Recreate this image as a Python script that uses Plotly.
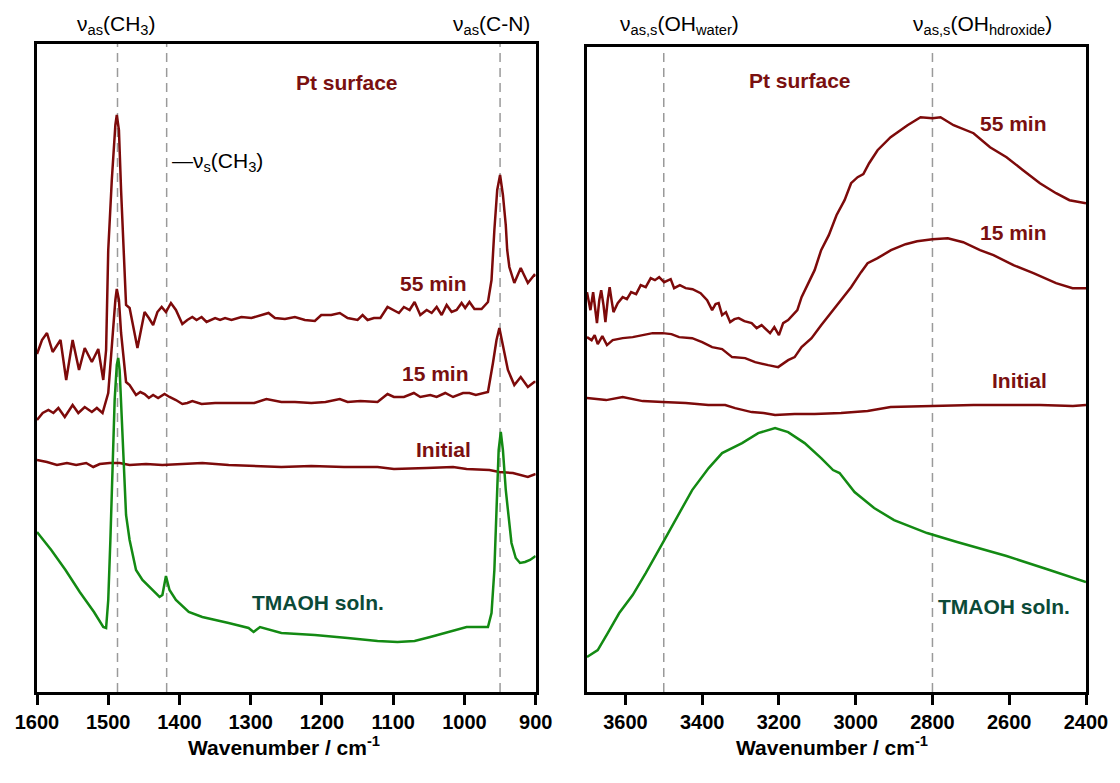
import plotly.graph_objects as go

# ---------------- Left panel (1600-900 cm-1) ----------------
wn_l55 = [1600,1593,1586,1578,1567,1559,1550,1541,1533,1523,1514,1507,1503,1500,1495,1490,1488,1485,1482,1478,
          1475,1470,1464,1459,1454,1449,1443,1437,1431,1425,1419,1412,1405,1396,1389,1382,1376,1369,1362,1350,
          1343,1336,1327,1313,1299,1285,1275,1266,1252,1238,1224,1210,1201,1187,1175,1164,1150,1143,1136,1127,
          1118,1108,1099,1092,1085,1077,1070,1062,1053,1046,1039,1032,1025,1018,1011,1004,999,993,986,976,
          967,962,958,954,950,946,942,940,937,930,921,911,902,900]
ab_l55 = [3.38,3.52,3.59,3.40,3.52,3.12,3.52,3.22,3.44,3.30,3.43,3.12,3.42,4.42,5.12,5.67,5.77,5.62,5.02,4.32,
          3.87,3.84,3.62,3.44,3.62,3.80,3.74,3.67,3.80,3.85,3.80,3.89,3.82,3.68,3.72,3.75,3.72,3.75,3.70,3.74,
          3.72,3.74,3.72,3.75,3.74,3.77,3.79,3.74,3.73,3.75,3.72,3.71,3.77,3.77,3.79,3.74,3.72,3.77,3.72,3.74,
          3.74,3.85,3.82,3.79,3.85,3.82,3.90,3.77,3.82,3.79,3.85,3.77,3.87,3.80,3.82,3.89,3.84,3.90,3.83,3.83,
          3.90,4.12,4.62,5.02,5.17,4.97,4.67,4.42,4.25,4.09,4.24,4.09,4.17,4.16]

wn_l15 = [1600,1592,1584,1577,1570,1561,1550,1542,1533,1523,1516,1508,1500,1494,1490,1488,1485,1482,1478,1475,
          1470,1461,1455,1449,1443,1437,1430,1421,1414,1405,1396,1389,1382,1369,1350,1331,1313,1295,1278,1257,
          1238,1215,1195,1175,1164,1146,1122,1108,1099,1085,1071,1062,1048,1039,1027,1016,1002,993,984,967,
          960,955,951,946,939,930,921,911,902,900]
ab_l15 = [2.72,2.79,2.82,2.79,2.84,2.75,2.87,2.79,2.85,2.80,2.84,2.79,2.99,3.59,3.92,4.03,3.92,3.59,3.32,3.10,
          3.07,2.97,3.00,2.98,2.94,2.97,2.94,2.98,2.95,2.92,2.88,2.89,2.91,2.88,2.89,2.89,2.89,2.89,2.93,2.90,
          2.90,2.89,2.90,2.93,2.90,2.91,2.90,2.98,2.95,2.95,2.99,2.95,2.97,2.95,2.99,2.95,2.99,2.99,2.97,3.00,
          3.29,3.52,3.64,3.45,3.22,3.07,3.15,3.05,3.10,3.10]

wn_l0 = [1600,1586,1572,1558,1545,1531,1521,1512,1498,1484,1470,1447,1424,1400,1368,1331,1294,1257,1215,1169,
         1122,1099,1053,1016,997,965,951,932,911,902,900]
ab_l0 = [2.32,2.30,2.27,2.29,2.27,2.29,2.25,2.28,2.29,2.29,2.27,2.28,2.27,2.28,2.29,2.27,2.26,2.25,2.26,2.25,
         2.25,2.23,2.24,2.25,2.23,2.22,2.20,2.19,2.15,2.18,2.18]

wn_lT = [1600,1580,1560,1540,1520,1507,1503,1500,1497,1494,1491,1488,1486,1484,1481,1478,1475,1470,1461,1452,
         1440,1428,1424,1419,1414,1405,1387,1368,1331,1303,1296,1287,1257,1210,1164,1122,1094,1070,1048,1029,
         997,967,962,958,955,952,949,946,942,938,934,928,922,915,908,902,900]
ab_lT = [1.60,1.42,1.22,1.00,0.80,0.65,0.64,0.92,1.52,2.22,2.92,3.27,3.34,3.22,2.72,2.12,1.77,1.52,1.22,1.12,
         1.04,0.95,0.97,1.16,1.02,0.92,0.80,0.75,0.69,0.64,0.60,0.65,0.59,0.57,0.54,0.51,0.50,0.51,0.55,0.59,
         0.65,0.65,0.79,1.22,1.92,2.42,2.60,2.42,2.02,1.72,1.49,1.34,1.29,1.30,1.32,1.35,1.36]

# ---------------- Right panel (3700-2400 cm-1) ----------------
wn_r55 = [3700,3694,3691,3684,3679,3674,3668,3663,3657,3652,3646,3641,3636,3631,3620,3607,3596,3585,3572,3560,
          3547,3534,3523,3512,3499,3482,3473,3458,3443,3425,3404,3387,3374,3365,3357,3348,3338,3327,3316,3305,
          3290,3271,3258,3245,3223,3212,3200,3189,3176,3163,3152,3141,3124,3107,3090,3070,3050,3029,3012,2995,
          2980,2965,2943,2909,2865,2831,2800,2779,2745,2693,2650,2607,2564,2520,2478,2443,2400]
ab_r55 = [4.00,3.87,3.82,4.00,3.87,3.69,3.92,4.02,3.87,3.70,3.92,4.05,3.92,3.80,3.89,3.95,3.93,4.00,3.98,4.07,
          4.05,4.14,4.12,4.15,4.10,4.13,4.04,4.07,4.04,4.03,3.99,3.92,3.82,3.88,3.89,3.77,3.80,3.70,3.73,3.74,
          3.71,3.69,3.64,3.67,3.59,3.65,3.57,3.69,3.72,3.77,3.82,3.95,4.09,4.22,4.42,4.57,4.77,4.92,5.09,5.15,
          5.18,5.29,5.42,5.55,5.67,5.75,5.74,5.75,5.67,5.59,5.45,5.35,5.22,5.09,4.99,4.92,4.89]

wn_r15 = [3700,3688,3680,3672,3660,3648,3633,3607,3581,3555,3529,3503,3480,3460,3426,3400,3374,3348,3322,3288,
          3262,3228,3202,3176,3159,3141,3115,3090,3064,3038,3012,2986,2969,2943,2908,2870,2840,2800,2760,2720,
          2676,2641,2589,2537,2478,2435,2400]
ab_r15 = [3.55,3.52,3.57,3.48,3.56,3.47,3.52,3.54,3.55,3.57,3.59,3.59,3.58,3.55,3.54,3.50,3.45,3.43,3.35,3.34,
          3.30,3.27,3.25,3.32,3.35,3.45,3.54,3.67,3.80,3.92,4.05,4.20,4.29,4.34,4.42,4.48,4.51,4.53,4.54,4.50,
          4.42,4.37,4.27,4.19,4.09,4.04,4.04]

wn_r0 = [3700,3650,3607,3555,3503,3443,3384,3340,3314,3271,3240,3210,3159,3107,3038,2969,2909,2814,2693,2520,2434,2400]
ab_r0 = [2.94,2.92,2.95,2.91,2.90,2.89,2.87,2.87,2.84,2.80,2.79,2.77,2.78,2.78,2.79,2.81,2.85,2.86,2.87,2.87,2.86,2.87]

wn_rT = [3700,3672,3646,3616,3581,3547,3503,3469,3426,3383,3348,3296,3254,3210,3176,3133,3090,3059,3042,3003,
         2952,2900,2814,2736,2607,2503,2417,2400]
ab_rT = [0.35,0.42,0.59,0.79,0.97,1.19,1.49,1.72,2.02,2.24,2.39,2.49,2.59,2.64,2.60,2.49,2.34,2.22,2.19,2.00,
         1.84,1.72,1.59,1.50,1.36,1.23,1.12,1.10]

left_ticks = [1600, 1500, 1400, 1300, 1200, 1100, 1000, 900]
right_ticks = [3600, 3400, 3200, 3000, 2800, 2600, 2400]
left_marks = [1487, 1418, 950]
right_marks = [3500, 2800]

RED = "#7d0a0a"
GREEN = "#138a13"
RED_TXT = "#7a1010"
GREEN_TXT = "#0b4a38"
FONT = "Liberation Sans, Arial, sans-serif"

fig = go.Figure()
for wn, ab, col in [(wn_l55, ab_l55, RED), (wn_l15, ab_l15, RED), (wn_l0, ab_l0, RED), (wn_lT, ab_lT, GREEN)]:
    fig.add_trace(go.Scatter(x=wn, y=ab, mode="lines", line=dict(color=col, width=2.5),
                             xaxis="x", yaxis="y", showlegend=False, hoverinfo="skip"))
for wn, ab, col in [(wn_r55, ab_r55, RED), (wn_r15, ab_r15, RED), (wn_r0, ab_r0, RED), (wn_rT, ab_rT, GREEN)]:
    fig.add_trace(go.Scatter(x=wn, y=ab, mode="lines", line=dict(color=col, width=2.5),
                             xaxis="x2", yaxis="y2", showlegend=False, hoverinfo="skip"))

shapes = []
for m in left_marks:
    shapes.append(dict(type="line", xref="x", yref="y domain", x0=m, x1=m, y0=0, y1=1,
                       line=dict(color="#9a9a9a", width=1.5, dash="9px,6px"), layer="below"))
for m in right_marks:
    shapes.append(dict(type="line", xref="x2", yref="y2 domain", x0=m, x1=m, y0=0, y1=1,
                       line=dict(color="#9a9a9a", width=1.5, dash="9px,6px"), layer="below"))

axis_common = dict(showline=True, mirror=True, linecolor="black", linewidth=2.5, showgrid=False,
                   zeroline=False, ticks="outside", ticklen=10, tickwidth=2.5, tickcolor="black",
                   tickfont=dict(family=FONT, size=20, color="black", weight="bold"))
yaxis_common = dict(showline=True, mirror=True, linecolor="black", linewidth=2.5, showgrid=False,
                    zeroline=False, showticklabels=False, ticks="")

ann = []
def txt(text, x, y, xref, yref, size=21, color="black", bold=False, xanchor="center"):
    t = "<b>" + text + "</b>" if bold else text
    ann.append(dict(text=t, x=x, y=y, xref=xref, yref=yref, showarrow=False, xanchor=xanchor,
                    yanchor="middle", font=dict(family=FONT, size=size, color=color)))

# top labels
txt("ν<sub>as</sub>(CH<sub>3</sub>)", 1488, 1.03, "x", "paper")
txt("ν<sub>as</sub>(C-N)", 962, 1.03, "x", "paper")
txt("ν<sub>as,s</sub>(OH<sub>water</sub>)", 3458, 1.03, "x2", "paper")
txt("ν<sub>as,s</sub>(OH<sub>hdroxide</sub>)", 2670, 1.03, "x2", "paper")
txt("—ν<sub>s</sub>(CH<sub>3</sub>)", 1414, 5.30, "x", "y", xanchor="left")
# series labels
txt("Pt surface", 1165, 6.10, "x", "y", color=RED_TXT, bold=True)
txt("55 min", 1044, 4.09, "x", "y", color=RED_TXT, bold=True)
txt("15 min", 1040, 3.19, "x", "y", color=RED_TXT, bold=True)
txt("Initial", 1030, 2.43, "x", "y", color=RED_TXT, bold=True)
txt("TMAOH soln.", 1206, 0.90, "x", "y", color=GREEN_TXT, bold=True)
txt("Pt surface", 3146, 6.12, "x2", "y2", color=RED_TXT, bold=True)
txt("55 min", 2590, 5.69, "x2", "y2", color=RED_TXT, bold=True)
txt("15 min", 2590, 4.60, "x2", "y2", color=RED_TXT, bold=True)
txt("Initial", 2572, 3.12, "x2", "y2", color=RED_TXT, bold=True)
txt("TMAOH soln.", 2613, 0.86, "x2", "y2", color=GREEN_TXT, bold=True)
# axis titles
txt("Wavenumber / cm<sup>-1</sup>", 0.235, -0.083, "paper", "paper", size=21, bold=True)
txt("Wavenumber / cm<sup>-1</sup>", 0.758, -0.083, "paper", "paper", size=21, bold=True)

fig.update_layout(
    width=1120, height=783,
    margin=dict(l=37, r=27, t=44, b=91),
    paper_bgcolor="white", plot_bgcolor="white",
    xaxis=dict(domain=[0, 0.4754], range=[1600, 900], tickvals=left_ticks, **axis_common),
    xaxis2=dict(domain=[0.5243, 1], range=[3700, 2400], tickvals=right_ticks, anchor="y2", **axis_common),
    yaxis=dict(domain=[0, 1], range=[0, 6.48], anchor="x", **yaxis_common),
    yaxis2=dict(domain=[0, 0.995], range=[0, 6.45], anchor="x2", **yaxis_common),
    shapes=shapes, annotations=ann, showlegend=False,
)

# remove the browser's default page margin so the figure fills the window exactly
fig.write_html("out.html", config={"displayModeBar": False},
               post_script="document.body.style.margin='0px';document.body.style.overflow='hidden';")
